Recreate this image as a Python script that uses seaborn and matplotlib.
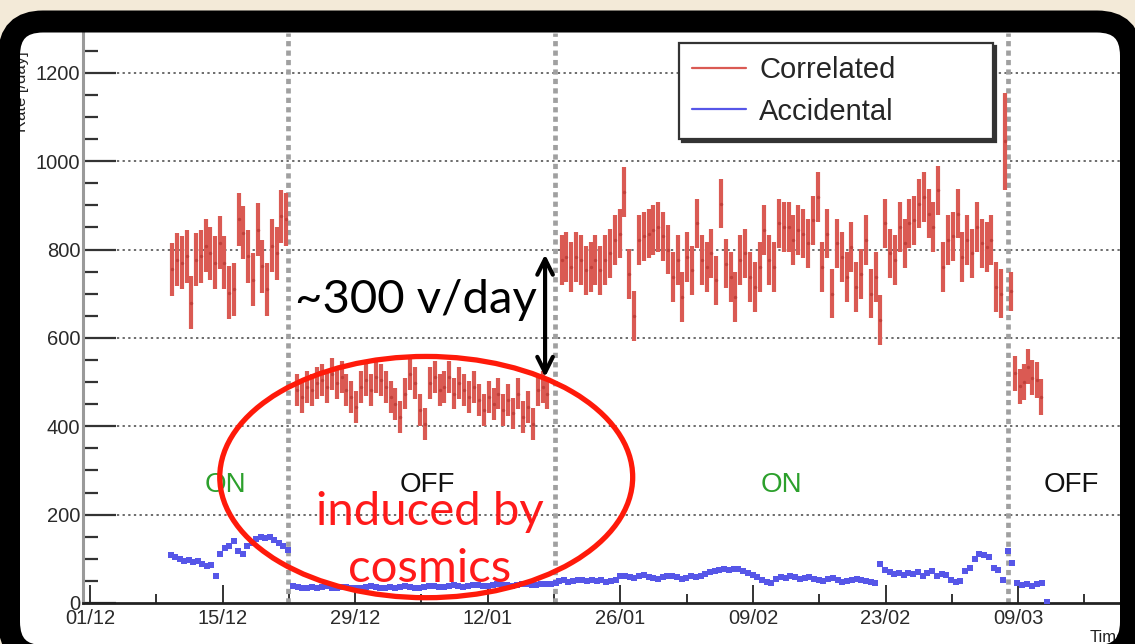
import numpy as np
import pandas as pd
import matplotlib
matplotlib.use("Agg")
import matplotlib.pyplot as plt
import seaborn as sns
from matplotlib.patches import Ellipse, FancyBboxPatch
from matplotlib.lines import Line2D
from matplotlib.ticker import MultipleLocator, FixedLocator, FixedFormatter
from matplotlib.transforms import IdentityTransform

# ---------------- data (x = days since 01/12) ----------------
tick_days = [0, 14, 28, 42, 56, 70, 84, 98]
tick_labels = ["01/12", "15/12", "29/12", "12/01", "26/01", "09/02", "23/02", "09/03"]

# Correlated rate, per segment: (first day, last day), values, error
corr_span1 = (8.7, 20.7)
corr_vals1 = [755, 777, 770, 785, 680, 777, 785, 808, 792, 770, 815, 770, 702,
              710, 868, 838, 785, 732, 845, 762, 710, 808, 792, 875, 868]
corr_err1 = 60

corr_span2 = (21.9, 48.3)
corr_vals2 = [482, 466, 489, 482, 497, 504, 489, 519, 497, 512, 482, 466, 444,
              489, 504, 482, 512, 504, 489, 466, 451, 421, 474, 519, 497, 436,
              406, 497, 512, 482, 489, 512, 474, 497, 482, 466, 489, 459, 436,
              466, 451, 474, 436, 459, 429, 474, 421, 444, 406, 482, 489, 474]
corr_err2 = 36

corr_span3 = (49.8, 96.2)
corr_vals3 = [776, 783, 760, 783, 776, 753, 760, 776, 753, 776, 791, 821, 836,
              930, 745, 650, 821, 830, 836, 844, 851, 830, 800, 738, 776, 693,
              783, 753, 859, 776, 760, 791, 730, 904, 768, 738, 693, 776, 791,
              738, 715, 760, 844, 776, 760, 859, 851,
              851, 821, 844, 836, 814, 866, 919, 760, 836, 700, 814, 783, 738,
              806, 715, 745, 821, 700, 738, 640, 859, 791, 776, 851, 814, 859,
              866, 904, 919, 881, 851, 934, 760, 821, 830, 881, 783, 821, 791,
              851, 814, 806, 821, 715, 700]
corr_err3 = 56

corr_span_spike = (96.6, 97.2)
corr_vals_spike = [1045, 705]
corr_err_spike = [110, 45]

corr_span4 = (97.7, 100.4)
corr_vals4 = [520, 490, 500, 535, 510, 505, 466]
corr_err4 = 40

# Accidental rate, per segment
acc_span1 = (8.5, 20.9)
acc_vals1 = [108, 104, 100, 96, 98, 92, 95, 88, 84, 86, 62, 110, 125, 130,
             140, 118, 112, 128, 135, 145, 150, 146, 150, 142, 135, 128, 120]

acc_span2 = (21.4, 49.2)
acc_vals2 = [38, 36, 34, 35, 37, 33, 36, 38, 35, 34, 36, 37, 35, 33, 34, 36,
             38, 37, 35, 34, 36, 35, 37, 38, 36, 34, 35, 37, 39, 38, 36, 37,
             38, 40, 39, 37, 38, 40, 41, 39, 38, 40, 42, 41, 40, 39, 41, 43,
             42, 40, 41, 43, 44, 42, 45]

acc_span3 = (49.5, 96.9)
acc_vals3 = [50, 52, 48, 50, 53, 51, 49, 52, 50, 51, 48, 50, 52,
             60, 62, 58, 56, 60, 63, 59, 57, 55, 58, 60, 62, 58, 55, 57, 60, 58,
             62, 66, 70, 72, 74, 76, 74,
             78, 76, 72, 68, 64,
             58, 52, 48, 46,
             54, 58, 56, 60, 58, 55, 57, 59,
             55, 52, 50, 54, 56, 52, 48, 50, 53, 55, 52, 49, 47, 46,
             88, 75, 70, 66, 68, 64, 67,
             65, 70, 62, 68, 72, 60, 66, 64,
             52, 48, 50,
             72, 80, 100, 110, 108, 104,
             80, 74, 52, 118]

acc_span4 = (97.4, 101.1)
acc_vals4 = [90, 45, 40, 42, 38, 42, 46, 2]

switch_days = [20.9, 49.1, 96.9]
state_labels = ["ON", "OFF", "ON", "OFF"]
state_days = [14.3, 35.6, 73.0, 103.6]
state_colors = ["#2ca02c", "#111111", "#2ca02c", "#111111"]


def segment(span, vals, err=None):
    d = pd.DataFrame({"day": np.linspace(span[0], span[1], len(vals)),
                      "rate": vals})
    if err is not None:
        d["err"] = err
    return d


corr = pd.concat([segment(corr_span1, corr_vals1, corr_err1),
                  segment(corr_span2, corr_vals2, corr_err2),
                  segment(corr_span3, corr_vals3, corr_err3),
                  segment(corr_span_spike, corr_vals_spike, corr_err_spike),
                  segment(corr_span4, corr_vals4, corr_err4)],
                 ignore_index=True)
acc = pd.concat([segment(acc_span1, acc_vals1), segment(acc_span2, acc_vals2),
                 segment(acc_span3, acc_vals3), segment(acc_span4, acc_vals4)],
                ignore_index=True)

# ---------------- styling ----------------
sns.set_theme(style="white")
plt.rcParams["font.family"] = ["Liberation Sans", "DejaVu Sans"]

RED = "#da5a53"
BLUE = "#5656e8"
W, H = 1135, 644
fig = plt.figure(figsize=(W / 100, H / 100), dpi=100, facecolor="#f3ead8")

# white card behind the plot
card = FancyBboxPatch((9, -12), 1122, 634.5,
                      boxstyle="round,pad=0,rounding_size=34",
                      transform=IdentityTransform(), facecolor="white",
                      edgecolor="none", zorder=-5)
fig.add_artist(card)

ax = fig.add_axes([83 / W, 1 - 603 / H, (1128 - 83) / W, (603 - 33) / H])
ax.set_facecolor("none")
ax.set_xlim(-0.74, 109.6)
ax.set_ylim(0, 1290)

# grid on major y ticks
for v in range(200, 1201, 200):
    ax.axhline(v, color="#444444", lw=1.1, ls=(0, (1.5, 2.2)), zorder=0.5)

# switch lines
for d in switch_days:
    ax.axvline(d, color="#a0a0a0", lw=3.4, ls=(0, (1.1, 0.9)), zorder=0.6)

# correlated with error bars
ax.errorbar(corr["day"], corr["rate"], yerr=corr["err"], fmt="none",
            ecolor=RED, elinewidth=3.0, capsize=0, zorder=2)
sns.scatterplot(data=corr, x="day", y="rate", color="#c0403a", s=6,
                linewidth=0, ax=ax, zorder=3, legend=False)
# accidental
sns.scatterplot(data=acc, x="day", y="rate", color=BLUE, marker="s", s=15,
                linewidth=0, ax=ax, zorder=3, legend=False)

# axes styling
ax.set_xlabel("")
ax.set_ylabel("")
for s in ["top", "right"]:
    ax.spines[s].set_visible(False)
ax.spines["left"].set_color("#9a9a9a")
ax.spines["left"].set_linewidth(2.2)
ax.spines["bottom"].set_color("#222222")
ax.spines["bottom"].set_linewidth(2.0)

ax.yaxis.set_major_locator(MultipleLocator(200))
ax.yaxis.set_minor_locator(MultipleLocator(50))
ax.xaxis.set_major_locator(FixedLocator(tick_days))
ax.xaxis.set_major_formatter(FixedFormatter(tick_labels))
ax.xaxis.set_minor_locator(MultipleLocator(7))
ax.tick_params(axis="y", which="major", direction="in", length=24, width=1.6,
               color="#333333", labelsize=14.5, labelcolor="#2a2a2a", pad=2,
               left=True)
ax.tick_params(axis="y", which="minor", direction="in", length=11, width=1.6,
               color="#333333", left=True)
ax.tick_params(axis="x", which="major", direction="in", length=13, width=1.4,
               color="#333333", labelsize=14.5, labelcolor="#2a2a2a", pad=4,
               bottom=True)
ax.tick_params(axis="x", which="minor", direction="in", length=6.5, width=1.4,
               color="#333333", bottom=True)

# ON / OFF labels
for lab, d, c in zip(state_labels, state_days, state_colors):
    ax.text(d, 267, lab, color=c, fontsize=20, ha="center", va="center",
            zorder=4)

# annotations
ax.text(21.65, 686, "~300 v/day", family="Lato", fontsize=34, color="black",
        ha="left", va="center", zorder=5)
ax.annotate("", xy=(48.05, 505), xytext=(48.05, 795),
            arrowprops=dict(arrowstyle="<->", color="black", lw=3,
                            mutation_scale=28), zorder=5)
ax.add_patch(Ellipse((35.5, 285), 43.6, 546, facecolor="none",
                     edgecolor="#ff1a0a", lw=3.8, zorder=6))
ax.text(35.9, 206, "induced by", family="Lato", fontsize=34, color="#ff1a1a",
        ha="center", va="center", zorder=6)
ax.text(35.9, 78, "cosmics", family="Lato", fontsize=34, color="#ff1a1a",
        ha="center", va="center", zorder=6)

# legend
handles = [Line2D([], [], color=RED, lw=1.6), Line2D([], [], color=BLUE, lw=1.6)]
leg = fig.legend(handles, ["Correlated", "Accidental"], loc="upper left",
                 bbox_to_anchor=(679 / W, 1 - 44 / H, 314 / W, 0.001),
                 bbox_transform=fig.transFigure, mode="expand", fontsize=21,
                 handlelength=1.85, handletextpad=0.45, borderpad=0.45,
                 labelspacing=0.45, borderaxespad=0, fancybox=False,
                 frameon=True,
                 shadow={"ox": 2, "oy": -2, "color": "#333333", "alpha": 1})
leg.get_frame().set_edgecolor("#333333")
leg.get_frame().set_linewidth(1.6)
leg.set_zorder(8)

# axis titles (ROOT-like placement)
fig.text(22 / W, 1 - 132 / H, "Rate [/day]", rotation=90, ha="center",
         va="bottom", fontsize=12, color="#222222")
fig.text(1090 / W, 1 - 637 / H, "Time", ha="left", va="center",
         fontsize=12, color="#222222")

# thick black frame on top
frame = FancyBboxPatch((9, -12), 1122, 634.5,
                       boxstyle="round,pad=0,rounding_size=34",
                       transform=IdentityTransform(), facecolor="none",
                       edgecolor="black", linewidth=22 * 72 / 100, zorder=20)
fig.add_artist(frame)

fig.savefig("out.png", dpi=100, facecolor=fig.get_facecolor())
